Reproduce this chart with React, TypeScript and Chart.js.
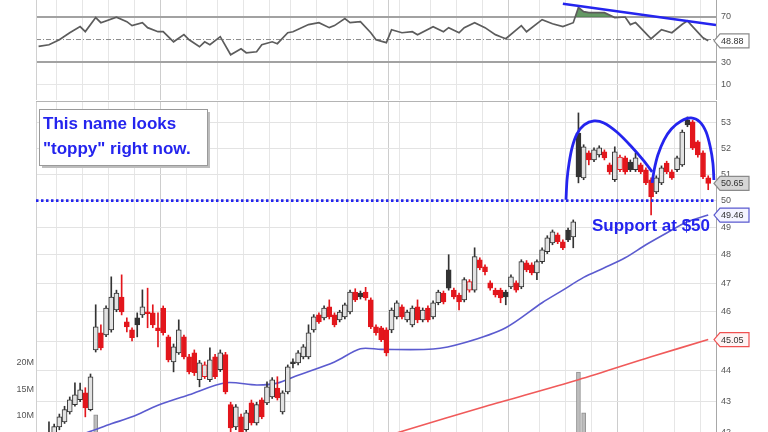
import React, { useEffect, useRef } from "react";
import { Chart, registerables } from "chart.js";
Chart.register(...registerables);

// ---------- data ----------
const SLOTS = 131;
const opens = [
  41.5, 41.6, 41.85, 42.0, 42.19, 42.35, 42.67, 42.9, 43.06, 43.28,
  42.74, 44.7, 45.28, 45.21, 45.38, 46.06, 46.51, 45.65, 45.38, 45.79,
  45.89, 45.99, 45.96, 45.45, 46.13, 45.14, 44.3, 44.6, 45.14, 44.47,
  44.6, 43.71, 43.81, 43.71, 44.47, 44.04, 44.54, 42.9, 42.19, 42.51,
  42.1, 42.96, 42.32, 43.06, 42.96, 43.15, 43.44, 42.67, 43.31, 44.3,
  44.27, 44.47, 44.47, 45.38, 45.89, 45.79, 46.17, 45.89, 45.72, 45.82,
  45.99, 46.68, 46.65, 46.68, 46.41, 45.48, 45.45, 45.38, 45.38, 45.82,
  46.17, 45.72, 45.55, 46.17, 45.72, 46.13, 45.82, 46.31, 46.65, 47.47,
  46.75, 46.58, 46.41, 46.75, 46.75, 47.83, 47.58, 47.01, 46.75, 46.75,
  46.68, 46.86, 47.01, 46.86, 47.72, 47.65, 47.36, 47.76, 48.12, 48.44,
  48.73, 48.48, 48.91, 48.66, 52.6, 50.86, 51.82, 51.55, 51.74, 51.86,
  51.36, 50.79, 51.17, 51.63, 51.47, 51.17, 51.36, 51.17, 50.79, 50.33,
  50.67, 51.43, 51.09, 51.17, 51.36, 53.12, 53.04, 52.25, 51.82, 50.86,
];
const highs = [
  41.7, 41.9, 42.35, 42.28, 42.6, 42.85, 43.15, 43.61, 43.6, 43.45,
  43.9, 46.24, 45.55, 46.2, 47.22, 46.75, 47.29, 45.79, 45.45, 45.96,
  46.76, 46.82, 46.24, 45.96, 46.2, 45.2, 44.9, 45.72, 45.2, 44.55,
  44.7, 44.35, 44.3, 44.77, 44.55, 44.7, 44.62, 42.98, 42.9, 42.6,
  42.72, 43.05, 42.98, 43.12, 43.64, 43.78, 43.81, 43.35, 44.2, 44.4,
  44.68, 44.88, 45.55, 45.9, 45.96, 46.2, 46.41, 45.96, 46.05, 46.3,
  46.75, 46.8, 46.72, 46.85, 46.48, 45.55, 45.5, 45.45, 46.13, 46.38,
  46.24, 46.06, 46.2, 46.41, 46.13, 46.2, 46.38, 46.75, 46.72, 48.01,
  46.82, 46.65, 47.19, 47.12, 48.26, 47.9, 47.65, 47.08, 46.82, 46.82,
  46.75, 47.29, 47.08, 47.83, 47.8, 47.72, 47.83, 48.26, 48.7, 48.91,
  48.8, 48.55, 48.98, 49.28, 53.4, 52.14, 51.9, 52.02, 52.1, 51.94,
  51.43, 52.06, 51.74, 51.7, 51.55, 51.82, 51.43, 51.24, 50.86, 50.94,
  51.32, 51.5, 51.17, 51.7, 52.72, 53.24, 53.1, 52.3, 51.9, 50.94,
];
const lows = [
  41.3, 41.5, 41.7, 41.9, 42.1, 42.3, 42.6, 42.85, 43.0, 42.51,
  42.7, 44.63, 44.7, 45.15, 45.3, 46.0, 45.89, 45.31, 45.0, 45.14,
  45.8, 45.45, 45.45, 44.8, 45.2, 44.3, 43.97, 44.55, 44.4, 43.9,
  43.85, 43.48, 43.75, 43.65, 43.75, 43.98, 43.25, 41.95, 42.1, 41.9,
  42.05, 42.25, 42.25, 42.45, 42.9, 43.1, 43.05, 42.6, 43.25, 44.1,
  44.2, 44.4, 44.4, 45.3, 45.6, 45.72, 45.75, 45.48, 45.65, 45.75,
  45.92, 46.35, 46.44, 46.4, 45.42, 45.2, 44.98, 44.5, 45.28, 45.75,
  45.75, 45.65, 45.48, 45.62, 45.65, 45.65, 45.75, 46.24, 46.27, 46.75,
  46.44, 46.06, 46.34, 46.68, 46.68, 47.47, 47.29, 46.75, 46.51, 46.31,
  46.24, 46.8, 46.68, 46.8, 47.4, 47.29, 47.12, 47.7, 48.05, 48.37,
  48.41, 48.19, 48.48, 48.26, 50.67, 50.79, 51.36, 51.48, 51.66, 51.55,
  51.0, 50.72, 51.1, 51.0, 51.1, 51.1, 51.02, 50.6, 49.47, 50.26,
  50.6, 51.02, 50.8, 51.1, 51.3, 52.85, 51.95, 51.66, 50.83, 50.41,
];
const closes = [
  41.62, 41.82, 42.0, 42.2, 42.51, 42.74, 43.06, 43.22, 43.38, 42.8,
  43.81, 45.48, 44.77, 46.13, 46.51, 46.65, 45.99, 45.48, 45.11, 45.55,
  46.17, 45.93, 45.55, 45.35, 45.28, 44.37, 44.8, 45.38, 44.47, 43.97,
  43.94, 44.27, 44.2, 44.37, 43.81, 44.6, 43.31, 42.16, 42.83, 42.0,
  42.64, 42.32, 42.9, 42.51, 43.48, 43.71, 43.12, 43.28, 44.14, 44.24,
  44.6, 44.8, 45.28, 45.82, 45.65, 46.13, 45.82, 45.55, 45.99, 46.24,
  46.68, 46.41, 46.51, 46.48, 45.48, 45.28, 45.04, 44.6, 46.06, 46.31,
  45.82, 45.99, 46.13, 45.72, 46.06, 45.72, 46.31, 46.68, 46.34, 46.82,
  46.51, 46.34, 47.12, 47.05, 47.94, 47.54, 47.4, 46.82, 46.58, 46.48,
  46.51, 47.22, 46.75, 47.76, 47.47, 47.36, 47.76, 48.19, 48.62, 48.84,
  48.48, 48.26, 48.55, 49.21, 50.9, 52.06, 51.55, 51.94, 52.02, 51.63,
  51.09, 51.86, 51.66, 51.09, 51.17, 51.63, 51.09, 50.67, 50.14, 50.86,
  51.24, 51.09, 50.86, 51.63, 52.64, 52.92, 52.02, 51.74, 50.9, 50.65,
];
// volume in millions
const volumeM = [
  4.1, 3.8, 3.5, 4.4, 3.9, 4.6, 4.2, 5.0, 4.3, 5.5,
  6.2, 10.2, 6.5, 5.1, 5.8, 4.9, 5.6, 4.2, 3.9, 4.5,
  4.0, 3.7, 4.3, 4.1, 4.8, 5.2, 4.6, 4.4, 4.7, 5.0,
  4.9, 4.2, 3.8, 4.1, 4.5, 3.9, 6.4, 6.8, 5.4, 4.9,
  4.6, 5.1, 4.3, 4.7, 4.2, 4.0, 3.9, 4.4, 5.0, 3.6,
  3.8, 3.9, 4.6, 4.1, 3.7, 3.5, 3.9, 3.8, 3.6, 4.0,
  4.4, 3.7, 3.4, 3.6, 4.8, 4.1, 3.9, 5.2, 4.6, 4.0,
  3.8, 3.7, 3.9, 3.6, 3.8, 3.5, 4.1, 3.9, 3.6, 5.7,
  3.8, 3.6, 4.2, 3.9, 5.0, 4.1, 3.8, 3.6, 3.7, 3.5,
  3.4, 4.0, 3.6, 4.2, 3.9, 3.8, 4.3, 3.7, 4.1, 4.5,
  4.8, 4.0, 3.9, 4.4, 18.3, 10.6, 6.1, 5.2, 4.8, 4.5,
  5.0, 5.6, 4.7, 4.4, 4.2, 4.6, 4.3, 5.1, 6.6, 5.3,
  4.9, 4.4, 4.2, 4.5, 5.8, 6.0, 6.3, 5.4, 5.9, 5.5,
];
const ma50Idx = [5, 10, 14, 18, 23, 29, 36, 42, 46, 50, 57, 62, 66, 76, 82, 90, 97, 101, 105, 109, 113, 117, 121, 125, 129];
const ma50Val = [41.77, 42.05, 42.29, 42.51, 42.88, 43.22, 43.61, 43.54, 43.6, 43.86, 44.3, 44.74, 44.72, 44.73, 44.94, 45.45, 46.31, 46.75, 47.2, 47.54, 47.9, 48.37, 48.8, 49.21, 49.46];
const ma200Idx = [66, 71, 86, 104, 118, 129];
const ma200Val = [41.85, 42.1, 42.84, 43.71, 44.47, 45.05];
const rsiIdx = [0, 2, 4, 6, 8, 9, 11, 12, 15, 17, 18, 20, 21, 23, 24, 26, 28, 29, 31, 32, 33, 35, 37, 39, 40, 42, 43, 45, 46, 48, 49, 52, 54, 56, 57, 59, 60, 62, 64, 65, 67, 68, 70, 72, 73, 76, 78, 79, 81, 82, 84, 86, 88, 89, 90, 93, 94, 97, 99, 101, 103, 104, 105, 106, 109, 111, 113, 114, 115, 118, 120, 122, 124, 125, 126, 128, 129];
const rsiVal = [43.9, 45.4, 49.8, 56.0, 61.4, 57.0, 69.4, 64.9, 69.8, 65.8, 62.3, 64.9, 60.5, 56.9, 56.9, 48.0, 54.3, 49.8, 43.6, 48.0, 45.4, 52.5, 36.5, 41.8, 38.3, 39.2, 45.4, 48.0, 46.3, 56.0, 56.9, 63.2, 64.9, 60.5, 62.3, 68.5, 64.9, 65.8, 56.0, 49.8, 47.2, 58.7, 56.0, 56.9, 54.3, 61.4, 56.9, 60.5, 56.0, 60.5, 64.9, 60.5, 54.3, 52.5, 50.7, 62.3, 56.9, 67.6, 64.0, 61.4, 64.9, 78.3, 74.7, 73.8, 73.8, 69.4, 69.9, 63.2, 65.0, 50.7, 58.7, 56.0, 63.5, 66.5, 61.4, 51.6, 48.88];
const priceTicks = [42, 43, 44, 45, 46, 47, 48, 49, 50, 51, 52, 53];
const volTicksM = [10, 15, 20];
const rsiTicks = [10, 30, 50, 70, 90];
const weekLines = [3.5, 8.5, 13.5, 18.5, 23.5, 28.5, 34.5, 39.5, 44.5, 48.5, 53.5, 59.5, 64.5, 67.5, 69.5, 75.5, 80.5, 85.5, 90.5, 96.5, 101.5, 106.5, 111.5, 116.5, 122.5, 127.5];
const monthLines = [23.5, 67.5, 90.5, 111.5];
const supportLevel = 50;
const arc1Idx = [101.6, 101.8, 102.2, 102.8, 103.7, 105.1, 107.0, 108.9, 111.4, 114.1, 116.6, 118.2];
const arc1Val = [50.03, 50.78, 51.43, 52.05, 52.56, 52.92, 53.08, 53.0, 52.64, 52.09, 51.51, 51.09];
const arc2Idx = [118.2, 118.6, 119.3, 120.5, 121.9, 123.8, 125.7, 127.4, 128.6, 129.4, 129.9, 130.1];
const arc2Val = [50.67, 51.17, 51.74, 52.33, 52.76, 53.08, 53.2, 53.04, 52.64, 52.05, 51.43, 50.78];
const rsiTrendIdx = [101, 130.5];
const rsiTrendVal = [81.7, 62.9];
const noteLines = ["This name looks", "\"toppy\" right now."];
const supportText = "Support at $50";

// ---------- styling ----------
const PRICE_MIN = 42.03, PRICE_MAX = 53.88;
const VOL_MIN = 6.98, VOL_MAX = 69.4;
const RSI_MIN = -3.5, RSI_MAX = 100;
const BLUE = "#2424ee";
const RED = "#e3161c";
const DARK = "#333333";
const HOLLOW = "#e2e2e2";
const FONT = "'Liberation Sans', Arial, sans-serif";
const tickFont = { family: FONT, size: 9 };

const candleStroke = (i: number) => (closes[i] < (i > 0 ? closes[i - 1] : opens[i]) ? RED : DARK);
const candleFill = (i: number) => (closes[i] >= opens[i] ? HOLLOW : candleStroke(i));
const pts = (xs: number[], ys: number[]) => xs.map((x, i) => ({ x, y: ys[i] }));

function makeX(): any {
  return {
    type: "linear",
    min: -0.5,
    max: SLOTS - 0.5,
    offset: false,
    ticks: { display: false },
    grid: {
      offset: false,
      drawTicks: false,
      color: (c: any) => (c.tick && monthLines.includes(c.tick.value) ? "#cdcdcd" : "#e6e6e6"),
    },
    border: { display: false },
    afterBuildTicks: (s: any) => {
      s.ticks = weekLines.map((v) => ({ value: v }));
    },
    afterFit: (s: any) => {
      s.height = 0;
      s.paddingLeft = 0;
      s.paddingRight = 0;
    },
  };
}

function drawTag(ctx: CanvasRenderingContext2D, x: number, y: number, text: string, stroke: string, fill: string, color: string) {
  ctx.save();
  ctx.beginPath();
  ctx.moveTo(x, y);
  ctx.lineTo(x + 6, y - 7);
  ctx.lineTo(x + 35, y - 7);
  ctx.lineTo(x + 35, y + 7);
  ctx.lineTo(x + 6, y + 7);
  ctx.closePath();
  ctx.fillStyle = fill;
  ctx.fill();
  ctx.lineWidth = 1.2;
  ctx.strokeStyle = stroke;
  ctx.stroke();
  ctx.fillStyle = color;
  ctx.font = `9px ${FONT}`;
  ctx.textAlign = "left";
  ctx.textBaseline = "middle";
  ctx.fillText(text, x + 7, y + 0.5);
  ctx.restore();
}

const whiteBg = {
  id: "whiteBg",
  beforeDraw(chart: any) {
    const { ctx, width, height } = chart;
    ctx.save();
    ctx.fillStyle = "#ffffff";
    ctx.fillRect(0, 0, width, height);
    ctx.restore();
  },
};

const priceNotes = {
  id: "priceNotes",
  afterDraw(chart: any) {
    const { ctx, chartArea, scales } = chart;
    const y = scales.y;
    ctx.save();
    ctx.strokeStyle = "#b4b4b4";
    ctx.lineWidth = 1;
    ctx.beginPath();
    ctx.moveTo(chartArea.left, chartArea.top + 0.5);
    ctx.lineTo(chartArea.right, chartArea.top + 0.5);
    ctx.stroke();
    // note box
    const bx = 39, by = 8, bw = 168, bh = 56;
    ctx.fillStyle = "#bdbdbd";
    ctx.fillRect(bx + 3, by + 3, bw, bh);
    ctx.fillStyle = "#ffffff";
    ctx.fillRect(bx, by, bw, bh);
    ctx.strokeStyle = "#9a9a9a";
    ctx.strokeRect(bx + 0.5, by + 0.5, bw, bh);
    ctx.fillStyle = BLUE;
    ctx.font = `bold 17px ${FONT}`;
    ctx.textAlign = "left";
    ctx.textBaseline = "alphabetic";
    ctx.fillText(noteLines[0], bx + 4, by + 20);
    ctx.fillText(noteLines[1], bx + 4, by + 45);
    // support text
    const sy = y.getPixelForValue(supportLevel);
    ctx.textAlign = "right";
    ctx.fillText(supportText, chartArea.right - 6, sy + 30);
    ctx.restore();
    drawTag(ctx, chartArea.right - 2, y.getPixelForValue(closes[closes.length - 1]), closes[closes.length - 1].toFixed(2), "#8a8a8a", "#d6d6d6", "#333");
    drawTag(ctx, chartArea.right - 2, y.getPixelForValue(ma50Val[ma50Val.length - 1]), ma50Val[ma50Val.length - 1].toFixed(2), "#5a5ad0", "#f4f4ff", "#333");
    drawTag(ctx, chartArea.right - 2, y.getPixelForValue(ma200Val[ma200Val.length - 1]), ma200Val[ma200Val.length - 1].toFixed(2), "#f05050", "#fff4f4", "#333");
  },
};

const rsiNotes = {
  id: "rsiNotes",
  afterDraw(chart: any) {
    const { ctx, chartArea, scales } = chart;
    ctx.save();
    ctx.strokeStyle = "#d0d0d0";
    ctx.lineWidth = 1;
    ctx.beginPath();
    ctx.moveTo(chartArea.left + 0.5, chartArea.top);
    ctx.lineTo(chartArea.left + 0.5, chartArea.bottom);
    ctx.stroke();
    ctx.restore();
    const last = rsiVal[rsiVal.length - 1];
    drawTag(ctx, chartArea.right - 2, scales.y.getPixelForValue(last), last.toFixed(2), "#8a8a8a", "#ffffff", "#333");
  },
};

function priceConfig(): any {
  const idx = opens.map((_, i) => i);
  return {
    type: "bar",
    data: {
      datasets: [
        {
          type: "line", label: "support", order: 0, yAxisID: "y",
          data: pts([-0.5, SLOTS - 0.5], [supportLevel, supportLevel]),
          borderColor: BLUE, borderWidth: 2.6, borderDash: [2.5, 2.5], pointRadius: 0,
        },
        {
          type: "line", label: "arc1", order: 0, yAxisID: "y",
          data: pts(arc1Idx, arc1Val), borderColor: BLUE, borderWidth: 2.8, pointRadius: 0, tension: 0.3,
        },
        {
          type: "line", label: "arc2", order: 0, yAxisID: "y",
          data: pts(arc2Idx, arc2Val), borderColor: BLUE, borderWidth: 2.8, pointRadius: 0, tension: 0.3,
        },
        {
          type: "bar", label: "body", order: 2, yAxisID: "y", grouped: false,
          data: idx.map((i) => ({ x: i, y: [Math.min(opens[i], closes[i]), Math.max(opens[i], closes[i])] })),
          barThickness: 5, borderWidth: 1, borderSkipped: false, minBarLength: 2,
          backgroundColor: (c: any) => candleFill(c.dataIndex),
          borderColor: (c: any) => candleStroke(c.dataIndex),
        },
        {
          type: "bar", label: "wick", order: 3, yAxisID: "y", grouped: false,
          data: idx.map((i) => ({ x: i, y: [lows[i], highs[i]] })),
          barThickness: 1, borderWidth: 0,
          backgroundColor: (c: any) => candleStroke(c.dataIndex),
        },
        {
          type: "line", label: "ma50", order: 4, yAxisID: "y",
          data: pts(ma50Idx, ma50Val), borderColor: "#5b5bcf", borderWidth: 1.6, pointRadius: 0, tension: 0.3,
        },
        {
          type: "line", label: "ma200", order: 4, yAxisID: "y",
          data: pts(ma200Idx, ma200Val), borderColor: "#f05a5a", borderWidth: 1.6, pointRadius: 0, tension: 0.3,
        },
        {
          type: "bar", label: "volume", order: 10, yAxisID: "yVol", grouped: false,
          data: idx.map((i) => ({ x: i, y: volumeM[i] })),
          barThickness: 4, borderWidth: 1, backgroundColor: "#bdbdbd", borderColor: "#8e8e8e", borderSkipped: false,
        },
      ],
    },
    options: {
      responsive: false,
      animation: false,
      devicePixelRatio: 1,
      events: [],
      layout: { padding: 0 },
      plugins: { legend: { display: false }, tooltip: { enabled: false } },
      scales: {
        x: makeX(),
        y: {
          type: "logarithmic", position: "right", min: PRICE_MIN, max: PRICE_MAX,
          afterBuildTicks: (s: any) => { s.ticks = priceTicks.map((v) => ({ value: v })); },
          ticks: { callback: (v: any) => String(v), font: tickFont, color: "#555", padding: 5, autoSkip: false },
          grid: { color: "#e3e3e3", drawTicks: false },
          border: { display: true, color: "#a8a8a8" },
          afterFit: (s: any) => { s.width = 52; s.paddingTop = 0; s.paddingBottom = 0; },
        },
        yVol: {
          type: "linear", position: "left", min: VOL_MIN, max: VOL_MAX,
          afterBuildTicks: (s: any) => { s.ticks = volTicksM.map((v) => ({ value: v })); },
          ticks: { callback: (v: any) => `${v}M`, font: tickFont, color: "#555", padding: 2, autoSkip: false },
          grid: { display: false, drawTicks: false },
          border: { display: true, color: "#d0d0d0" },
          afterFit: (s: any) => { s.width = 36; s.paddingTop = 0; s.paddingBottom = 0; },
        },
      },
    },
    plugins: [whiteBg, priceNotes],
  };
}

function rsiConfig(): any {
  return {
    type: "line",
    data: {
      datasets: [
        {
          label: "trend", order: 0, data: pts(rsiTrendIdx, rsiTrendVal),
          borderColor: BLUE, borderWidth: 2.6, pointRadius: 0,
        },
        {
          label: "rsi", order: 1, data: pts(rsiIdx, rsiVal),
          borderColor: "#5c5c5c", borderWidth: 1.7, pointRadius: 0, tension: 0,
          fill: { target: { value: 70 }, above: "rgba(74,135,74,0.85)", below: "rgba(0,0,0,0)" },
        },
        {
          label: "mid", order: 2, data: pts([-0.5, SLOTS - 0.5], [50, 50]),
          borderColor: "#8c8c8c", borderWidth: 1, borderDash: [5, 2, 1, 2], pointRadius: 0,
        },
      ],
    },
    options: {
      responsive: false,
      animation: false,
      devicePixelRatio: 1,
      events: [],
      layout: { padding: { left: 36, top: 0, bottom: 0, right: 0 } },
      plugins: { legend: { display: false }, tooltip: { enabled: false } },
      scales: {
        x: makeX(),
        y: {
          type: "linear", position: "right", min: RSI_MIN, max: RSI_MAX,
          afterBuildTicks: (s: any) => { s.ticks = rsiTicks.map((v) => ({ value: v })); },
          ticks: { callback: (v: any) => (v === 50 ? "" : String(v)), font: tickFont, color: "#555", padding: 5, autoSkip: false },
          grid: {
            drawTicks: false,
            color: (c: any) => {
              const v = c.tick ? c.tick.value : 0;
              if (v === 70 || v === 30) return "#a2a2a2";
              if (v === 50) return "rgba(0,0,0,0)";
              return "#e6e6e6";
            },
            lineWidth: (c: any) => {
              const v = c.tick ? c.tick.value : 0;
              return v === 70 || v === 30 ? 2 : 1;
            },
          },
          border: { display: true, color: "#a8a8a8" },
          afterFit: (s: any) => { s.width = 52; s.paddingTop = 0; s.paddingBottom = 0; },
        },
      },
    },
    plugins: [whiteBg, rsiNotes],
  };
}

export default function App() {
  const rsiRef = useRef<HTMLCanvasElement>(null);
  const priceRef = useRef<HTMLCanvasElement>(null);
  useEffect(() => {
    const rsiChart = new Chart(rsiRef.current as HTMLCanvasElement, rsiConfig());
    const priceChart = new Chart(priceRef.current as HTMLCanvasElement, priceConfig());
    return () => {
      rsiChart.destroy();
      priceChart.destroy();
    };
  }, []);
  return (
    <div style={{ position: "fixed", left: 0, top: 0, width: 768, height: 432, overflow: "hidden", background: "#fff" }}>
      <canvas ref={rsiRef} width={768} height={117} style={{ position: "absolute", left: 0, top: -17, width: 768, height: 117 }} />
      <canvas ref={priceRef} width={768} height={331} style={{ position: "absolute", left: 0, top: 101, width: 768, height: 331 }} />
    </div>
  );
}
